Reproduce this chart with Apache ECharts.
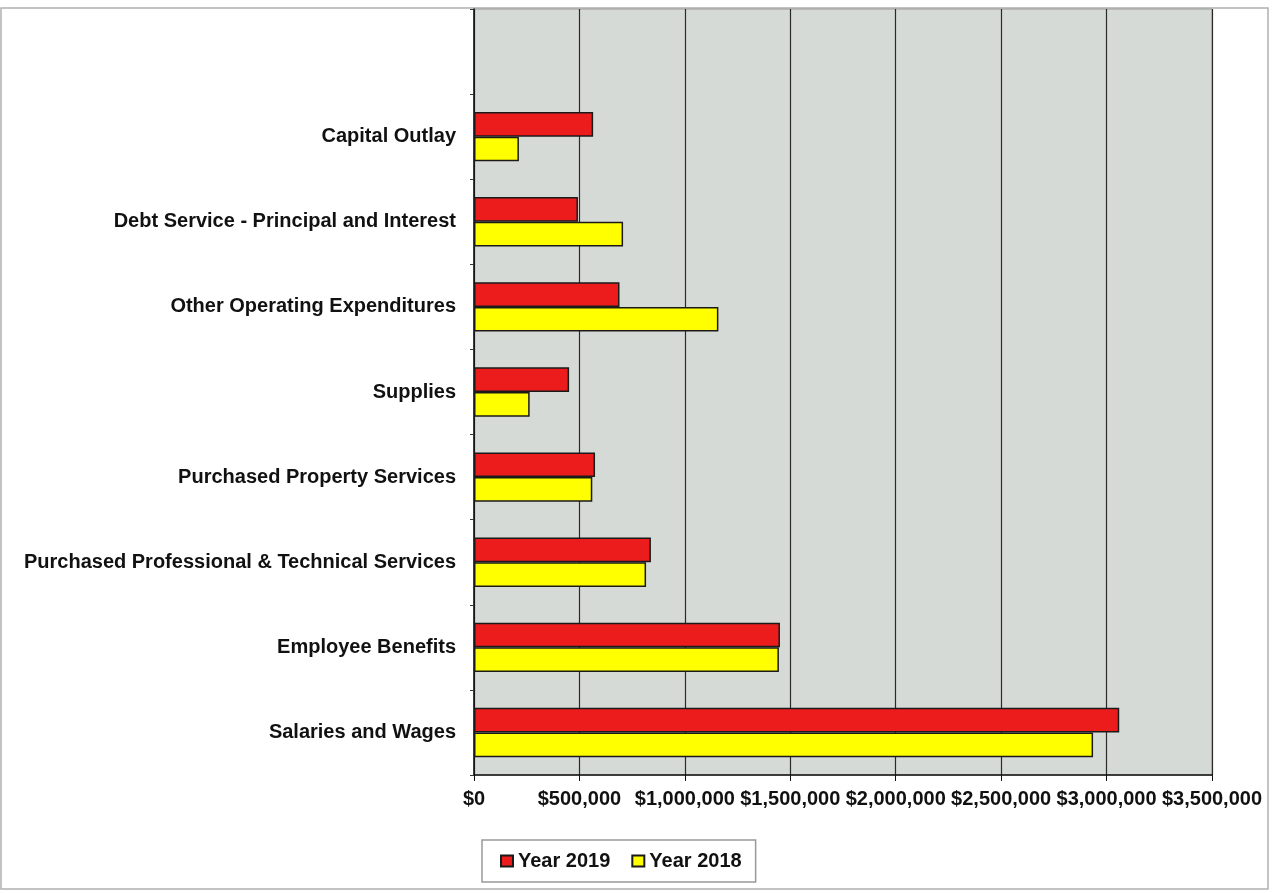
<!DOCTYPE html>
<html>
<head>
<meta charset="utf-8">
<script src="https://cdn.jsdelivr.net/npm/echarts@6/dist/echarts.min.js"></script>
<style>html,body{margin:0;padding:0;background:#fff;}#c{width:1273px;height:893px;}</style>
</head>
<body>
<div id="c"></div>
<script>
// Categories listed bottom to top (Excel order); the last one is the empty slot at the top of the plot
const categories = [
  'Salaries and Wages',
  'Employee Benefits',
  'Purchased Professional & Technical Services',
  'Purchased Property Services',
  'Supplies',
  'Other Operating Expenditures',
  'Debt Service - Principal and Interest',
  'Capital Outlay',
  ''
];
const year2019 = [3060000, 1451000, 839000, 574000, 451000, 690000, 493000, 565000, null];
const year2018 = [2936000, 1446000, 816000, 561000, 264000, 1159000, 707000, 213000, null];
const xTicks = { min: 0, max: 3500000, interval: 500000 };

const FONT = 'Liberation Sans, Arial, sans-serif';
const chart = echarts.init(document.getElementById('c'));
function money(v){ return '$' + String(v).replace(/\B(?=(\d{3})+(?!\d))/g, ','); }

chart.setOption({
  animation: false,
  textStyle: { fontFamily: FONT },
  graphic: [{
    type: 'rect', z: -10, silent: true,
    shape: { x: 1, y: 8, width: 1267, height: 881 },
    style: { fill: 'none', stroke: '#b0b0b0', lineWidth: 1.5 }
  }],
  grid: {
    left: 474, right: 61, top: 9, bottom: 118,
    show: true, backgroundColor: '#d6dad7', borderColor: '#9a9a9a', borderWidth: 1
  },
  legend: {
    data: ['Year 2019', 'Year 2018'],
    left: 482, top: 840,
    padding: [11, 14, 11, 18],
    itemGap: 21,
    itemWidth: 12, itemHeight: 11,
    icon: 'rect',
    borderColor: '#999', borderWidth: 1.5,
    textStyle: { fontFamily: FONT, fontWeight: 'bold', fontSize: 20, color: '#111' }
  },
  xAxis: {
    type: 'value',
    min: xTicks.min, max: xTicks.max, interval: xTicks.interval,
    axisLine: { show: true, lineStyle: { color: '#111', width: 1.5 } },
    axisTick: { show: true, length: 6, lineStyle: { color: '#111' } },
    splitLine: { show: true, lineStyle: { color: '#2a2a2a', width: 1.2 } },
    axisLabel: {
      formatter: money, margin: 14,
      fontFamily: FONT, fontWeight: 'bold', fontSize: 20, color: '#111'
    }
  },
  yAxis: {
    type: 'category',
    data: categories,
    axisLine: { show: true, lineStyle: { color: '#111', width: 1.5 } },
    axisTick: { show: true, length: 4, lineStyle: { color: '#333' } },
    axisLabel: { margin: 18, fontFamily: FONT, fontWeight: 'bold', fontSize: 20, color: '#111' }
  },
  series: [
    {
      name: 'Year 2019', type: 'bar', data: year2019,
      barGap: '0%', barCategoryGap: '42%',
      itemStyle: { color: '#ec1c1c', borderColor: '#1a1a1a', borderWidth: 1.5 }
    },
    {
      name: 'Year 2018', type: 'bar', data: year2018,
      barGap: '0%', barCategoryGap: '42%',
      itemStyle: { color: '#ffff00', borderColor: '#1a1a1a', borderWidth: 1.5 }
    }
  ]
});
</script>
</body>
</html>
